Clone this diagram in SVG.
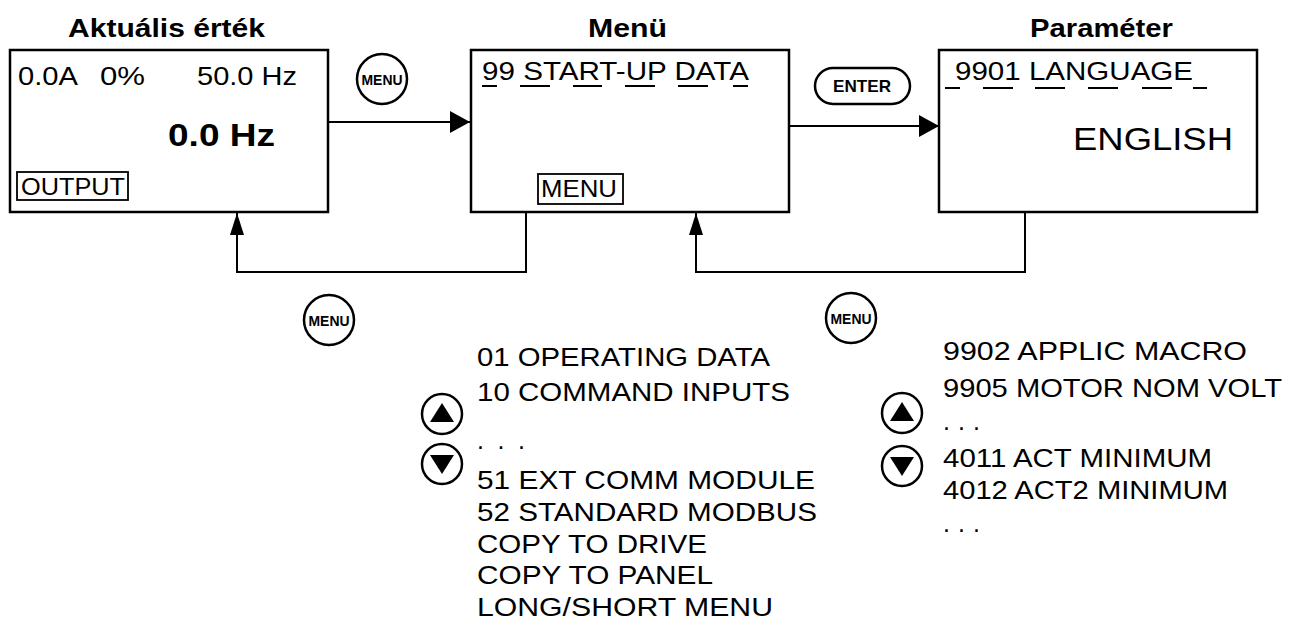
<svg xmlns="http://www.w3.org/2000/svg" width="1296" height="628" viewBox="0 0 1296 628">
  <style>
    .t { font-family: "Liberation Sans", Arial, Helvetica, sans-serif; fill: #000; }
    .b { font-weight: bold; }
    .frame { fill: #fff; stroke: #000; stroke-width: 2.5; }
    .tag { fill: none; stroke: #000; stroke-width: 1.8; }
    .ul { stroke: #000; stroke-width: 2; }
    .wire { fill: none; stroke: #000; stroke-width: 2; }
    .key { fill: #fff; stroke: #000; stroke-width: 2.5; }
  </style>
  <defs>
    <marker id="headH" markerUnits="userSpaceOnUse" markerWidth="20" markerHeight="22" refX="20" refY="11" orient="auto">
      <path d="M0,0 L20,11 L0,22 z" fill="#000"/>
    </marker>
    <marker id="headV" markerUnits="userSpaceOnUse" markerWidth="22" markerHeight="14" refX="22" refY="7" orient="auto">
      <path d="M0,0 L22,7 L0,14 z" fill="#000"/>
    </marker>
  </defs>
  <rect width="1296" height="628" fill="#fff"/>

  <!-- display states -->
  <g id="actual-value">
    <text class="t b" x="68" y="37" font-size="25" textLength="197" lengthAdjust="spacingAndGlyphs">Aktuális érték</text>
    <rect class="frame" x="10" y="50" width="318" height="162"/>
    <text class="t" x="18" y="85" font-size="25" textLength="60" lengthAdjust="spacingAndGlyphs">0.0A</text>
    <text class="t" x="100" y="85" font-size="25" textLength="45" lengthAdjust="spacingAndGlyphs">0%</text>
    <text class="t" x="197" y="85" font-size="25" textLength="100" lengthAdjust="spacingAndGlyphs">50.0 Hz</text>
    <text class="t b" x="168" y="146" font-size="32" textLength="107" lengthAdjust="spacingAndGlyphs">0.0 Hz</text>
    <rect class="tag" x="17" y="172" width="111" height="28"/>
    <text class="t" x="21" y="195" font-size="23" textLength="104" lengthAdjust="spacingAndGlyphs">OUTPUT</text>
  </g>

  <g id="menu">
    <text class="t b" x="588" y="37" font-size="25" textLength="79" lengthAdjust="spacingAndGlyphs">Menü</text>
    <rect class="frame" x="471" y="50" width="318" height="162"/>
    <text class="t" x="482" y="80" font-size="25" textLength="267" lengthAdjust="spacingAndGlyphs">99 START-UP DATA</text>
    <g class="ul">
      <line x1="482" y1="86" x2="497" y2="86"/>
      <line x1="520" y1="86" x2="550" y2="86"/>
      <line x1="573" y1="86" x2="602" y2="86"/>
      <line x1="625" y1="86" x2="655" y2="86"/>
      <line x1="678" y1="86" x2="708" y2="86"/>
      <line x1="733" y1="86" x2="748" y2="86"/>
    </g>
    <rect class="tag" x="538" y="174" width="85" height="30"/>
    <text class="t" x="541" y="197" font-size="23" textLength="76" lengthAdjust="spacingAndGlyphs">MENU</text>
  </g>

  <g id="parameter">
    <text class="t b" x="1030" y="37" font-size="25" textLength="143" lengthAdjust="spacingAndGlyphs">Paraméter</text>
    <rect class="frame" x="939" y="50" width="318" height="162"/>
    <text class="t" x="955" y="80" font-size="25" textLength="238" lengthAdjust="spacingAndGlyphs">9901 LANGUAGE</text>
    <g class="ul">
      <line x1="945" y1="88" x2="960" y2="88"/>
      <line x1="983" y1="88" x2="1013" y2="88"/>
      <line x1="1035" y1="88" x2="1065" y2="88"/>
      <line x1="1088" y1="88" x2="1118" y2="88"/>
      <line x1="1142" y1="88" x2="1172" y2="88"/>
      <line x1="1193" y1="88" x2="1207" y2="88"/>
    </g>
    <text class="t" x="1073" y="150" font-size="32" textLength="160" lengthAdjust="spacingAndGlyphs">ENGLISH</text>
  </g>

  <!-- keys -->
  <g id="key-menu-1">
    <circle class="key" cx="382" cy="79" r="25"/>
    <text class="t b" x="382" y="85" font-size="15" text-anchor="middle" textLength="41" lengthAdjust="spacingAndGlyphs">MENU</text>
  </g>
  <g id="key-enter">
    <rect class="key" x="815" y="68" width="95" height="36" rx="18"/>
    <text class="t b" x="862" y="92" font-size="17" text-anchor="middle" textLength="58" lengthAdjust="spacingAndGlyphs">ENTER</text>
  </g>
  <g id="key-menu-2">
    <circle class="key" cx="329" cy="320" r="25"/>
    <text class="t b" x="329" y="326" font-size="15" text-anchor="middle" textLength="41" lengthAdjust="spacingAndGlyphs">MENU</text>
  </g>
  <g id="key-menu-3">
    <circle class="key" cx="851" cy="318" r="25"/>
    <text class="t b" x="851" y="324" font-size="15" text-anchor="middle" textLength="41" lengthAdjust="spacingAndGlyphs">MENU</text>
  </g>

  <g id="keys-updown-1">
    <circle class="key" cx="442" cy="414" r="20"/>
    <polygon points="442,403 430,422 454,422" fill="#000"/>
    <circle class="key" cx="442" cy="464" r="20"/>
    <polygon points="430,455 454,455 442,474" fill="#000"/>
  </g>
  <g id="keys-updown-2">
    <circle class="key" cx="902" cy="413" r="20"/>
    <polygon points="902,402 890,421 914,421" fill="#000"/>
    <circle class="key" cx="902" cy="466" r="20"/>
    <polygon points="890,457 914,457 902,476" fill="#000"/>
  </g>

  <!-- menu groups -->
  <g id="group-list" class="t" font-size="25">
    <text x="477" y="366" textLength="293" lengthAdjust="spacingAndGlyphs">01 OPERATING DATA</text>
    <text x="477" y="401" textLength="313" lengthAdjust="spacingAndGlyphs">10 COMMAND INPUTS</text>
    <text x="477" y="449" textLength="48" lengthAdjust="spacing">. . .</text>
    <text x="477" y="489" textLength="338" lengthAdjust="spacingAndGlyphs">51 EXT COMM MODULE</text>
    <text x="477" y="521" textLength="340" lengthAdjust="spacingAndGlyphs">52 STANDARD MODBUS</text>
    <text x="477" y="553" textLength="230" lengthAdjust="spacingAndGlyphs">COPY TO DRIVE</text>
    <text x="477" y="584" textLength="236" lengthAdjust="spacingAndGlyphs">COPY TO PANEL</text>
    <text x="477" y="616" textLength="296" lengthAdjust="spacingAndGlyphs">LONG/SHORT MENU</text>
  </g>

  <!-- parameter list -->
  <g id="param-list" class="t" font-size="25">
    <text x="943" y="360" textLength="304" lengthAdjust="spacingAndGlyphs">9902 APPLIC MACRO</text>
    <text x="943" y="397" textLength="339" lengthAdjust="spacingAndGlyphs">9905 MOTOR NOM VOLT</text>
    <text x="943" y="430" textLength="37" lengthAdjust="spacing">. . .</text>
    <text x="943" y="467" textLength="269" lengthAdjust="spacingAndGlyphs">4011 ACT MINIMUM</text>
    <text x="943" y="499" textLength="285" lengthAdjust="spacingAndGlyphs">4012 ACT2 MINIMUM</text>
    <text x="943" y="532" textLength="37" lengthAdjust="spacing">. . .</text>
  </g>

  <!-- connectors -->
  <g id="connectors" class="wire">
    <path d="M328,122 H470" marker-end="url(#headH)"/>
    <path d="M789,126 H939" marker-end="url(#headH)"/>
    <path d="M526,212 V272 H237 V213" marker-end="url(#headV)"/>
    <path d="M1025,212 V272 H696 V213" marker-end="url(#headV)"/>
  </g>
</svg>
